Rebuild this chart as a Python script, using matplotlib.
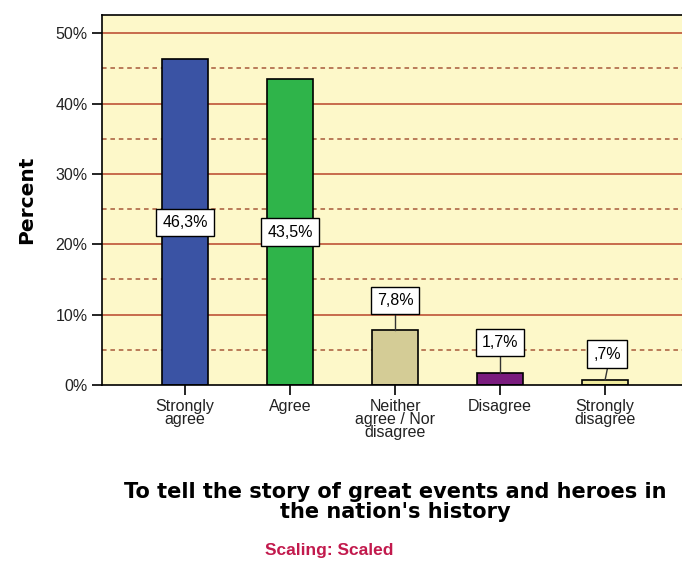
import matplotlib.pyplot as plt

# data
categories = ['Strongly\nagree', 'Agree', 'Neither\nagree / Nor\ndisagree',
              'Disagree', 'Strongly\ndisagree']
percents = [46.3, 43.5, 7.8, 1.7, 0.7]
labels = ['46,3%', '43,5%', '7,8%', '1,7%', ',7%']
label_pos = [23.15, 21.75, 12.0, 6.0, 4.4]
colors = ['#3a53a4', '#2fb44a', '#d4cc96', '#7a1c7e', '#efea9c']

fig = plt.figure(figsize=(6.82, 5.65), dpi=100)
ax = fig.add_axes([102 / 682, 1 - 385 / 565, 585 / 682, 370 / 565])
ax.set_facecolor('#fdf8c9')

x = list(range(len(categories)))
ax.set_xlim(-0.79, 4.78)
ax.set_ylim(0, 52.6)

# grid lines
for v in range(10, 51, 10):
    ax.axhline(v, color='#b8442a', lw=1.1, zorder=1)
for v in range(5, 50, 10):
    ax.axhline(v, color='#a85a3a', lw=1.1, ls=(0, (3, 2.5)), zorder=1)

ax.bar(x, percents, width=0.43, color=colors, edgecolor='black', lw=1.2, zorder=2)

for i in x:
    if label_pos[i] > percents[i]:
        ax.plot([i, i + (0.05 if i == 4 else 0)], [percents[i], label_pos[i]],
                color='#333333', lw=1, zorder=3)
    ax.text(i + (0.02 if i == 4 else 0), label_pos[i], labels[i],
            ha='center', va='center', fontsize=11.5, zorder=4, family='Liberation Sans',
            bbox=dict(boxstyle='square,pad=0.38', fc='white', ec='black', lw=1))

ax.set_yticks(range(0, 51, 10))
ax.set_yticklabels([f'{v}%' for v in range(0, 51, 10)], fontsize=11.5,
                   color='#222222', family='Liberation Sans')
ax.set_xticks(x)
ax.set_xticklabels(categories, fontsize=11.5, linespacing=0.85, color='#222222',
                   family='Liberation Sans')
ax.tick_params(axis='both', direction='out', length=7, width=1.2, color='black')
ax.tick_params(axis='x', pad=3)

for s in ['left', 'bottom', 'top']:
    ax.spines[s].set_color('black')
    ax.spines[s].set_linewidth(1.2)
ax.spines['right'].set_visible(False)

ax.set_ylabel('Percent', fontsize=14.5, fontweight='bold', labelpad=14)

fig.text(395 / 682, 1 - 502 / 565,
         "To tell the story of great events and heroes in\nthe nation's history",
         ha='center', va='center', fontsize=15, fontweight='bold', linespacing=0.95)
fig.text(329 / 682, 1 - 551 / 565, 'Scaling: Scaled', ha='center', va='center',
         fontsize=12.5, fontweight='bold', color='#c21a4d', family='Liberation Sans')

fig.savefig('out.png', dpi=100)
